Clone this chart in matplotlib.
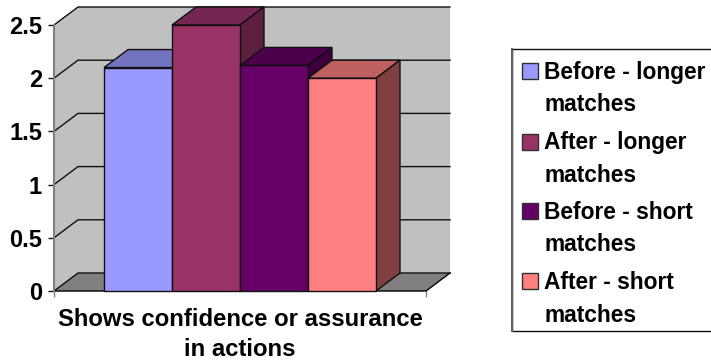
import matplotlib
matplotlib.use('Agg')
import matplotlib.pyplot as plt
from matplotlib.patches import Polygon, Rectangle

plt.rcParams['font.family'] = ['Liberation Sans', 'DejaVu Sans']
plt.rcParams['font.weight'] = 'bold'

# 系列データ
series_names = ['Before - longer\nmatches', 'After - longer\nmatches',
                'Before - short\nmatches', 'After - short\nmatches']
values = [2.1, 2.5, 2.12, 2.0]
colors = ['#9999FF', '#993366', '#660066', '#FF8080']
top_colors = ['#7373BF', '#732650', '#4C004C', '#BF6060']
side_colors = ['#5C5C99', '#5C1F3D', '#3D003D', '#804040']
category_label = 'Shows confidence or assurance\nin actions'
y_ticks = [0, 0.5, 1, 1.5, 2, 2.5]
y_labels = ['0', '0.5', '1', '1.5', '2', '2.5']

W, H = 711, 362
fig = plt.figure(figsize=(W / 100, H / 100), dpi=100)
ax = fig.add_axes([54 / W, 1 - 291 / H, 372 / W, 266 / H])
ax.set_xlim(0, 1)
ax.set_ylim(0, 2.5)
ax.patch.set_visible(False)
for s in ax.spines.values():
    s.set_visible(False)

# 奥行きをデータ座標に換算
dx = 24 / 372
dy = 18 / 266 * 2.5
ymax = y_ticks[-1]

# 壁と床
ax.add_patch(Polygon([(0, 0), (dx, dy), (1 + dx, dy), (1 + dx, ymax + dy), (dx, ymax + dy), (0, ymax)],
                     fc='#C0C0C0', ec='none', zorder=1, clip_on=False))
ax.add_patch(Polygon([(0, 0), (1, 0), (1 + dx, dy), (dx, dy)], fc='#808080', ec='none', zorder=1,
                     clip_on=False))

# 目盛り線
for t in y_ticks:
    ax.plot([0, dx, 1 + dx], [t, t + dy, t + dy], color='#101010', lw=1.0, clip_on=False, zorder=2,
            solid_joinstyle='miter')
ax.plot([0, 1, 1 + dx], [0, 0, dy], color='black', lw=1.0, clip_on=False, zorder=3)

# 棒の配置
bar_w = 68 / 372
x_start = 50 / 372
for i, v in enumerate(values):
    left = x_start + i * bar_w
    right = left + bar_w
    ax.add_patch(Polygon([(left, v), (right, v), (right + dx, v + dy), (left + dx, v + dy)],
                         fc=top_colors[i], ec='#101010', lw=1.0, zorder=4 + i, clip_on=False))
    ax.add_patch(Polygon([(right, 0), (right + dx, dy), (right + dx, v + dy), (right, v)],
                         fc=side_colors[i], ec='#101010', lw=1.0, zorder=4 + i, clip_on=False))
    ax.bar(left, v, width=bar_w, align='edge', color=colors[i], edgecolor='#101010', lw=1.0,
           zorder=4 + i, clip_on=False)

# 軸
ax.plot([0, 0], [0, ymax], color='#808080', lw=1.5, clip_on=False, zorder=3)
ax.set_yticks(y_ticks)
ax.set_yticklabels(y_labels, fontsize=17, fontweight='bold')
ax.tick_params(axis='y', length=4.3, width=1, color='#101010', pad=4.3)
ax.set_xticks([0, 1])
ax.set_xticklabels(['', ''])
ax.tick_params(axis='x', length=4.3, width=1, color='#808080')
ax.text(0.5, -0.163, category_label, transform=ax.transAxes, ha='center', va='center', fontsize=17.2,
        fontweight='bold', linespacing=1.42, clip_on=False)

# 凡例
fig.add_artist(Rectangle((512 / W, 1 - 331 / H), 210 / W, 282 / H, transform=fig.transFigure,
                         fc='white', ec='#101010', lw=1.0))
fig.add_artist(plt.Line2D([512 / W, 512 / W], [1 - 331 / H, 1 - 49 / H], color='#606060', lw=1.5))
row_y = [88.5, 159, 228.5, 299]
swatch_y = [63, 134, 203, 273]
for name, col, y, sy in zip(series_names, colors, row_y, swatch_y):
    fig.add_artist(Rectangle((522 / W, 1 - (sy + 16) / H), 16 / W, 16 / H, transform=fig.transFigure,
                             fc=col, ec='#303030', lw=1.0))
    fig.text(544 / W, 1 - y / H, name, ha='left', va='center', fontsize=16.4, fontweight='bold',
             linespacing=1.52)

fig.savefig('out.png', dpi=100)
